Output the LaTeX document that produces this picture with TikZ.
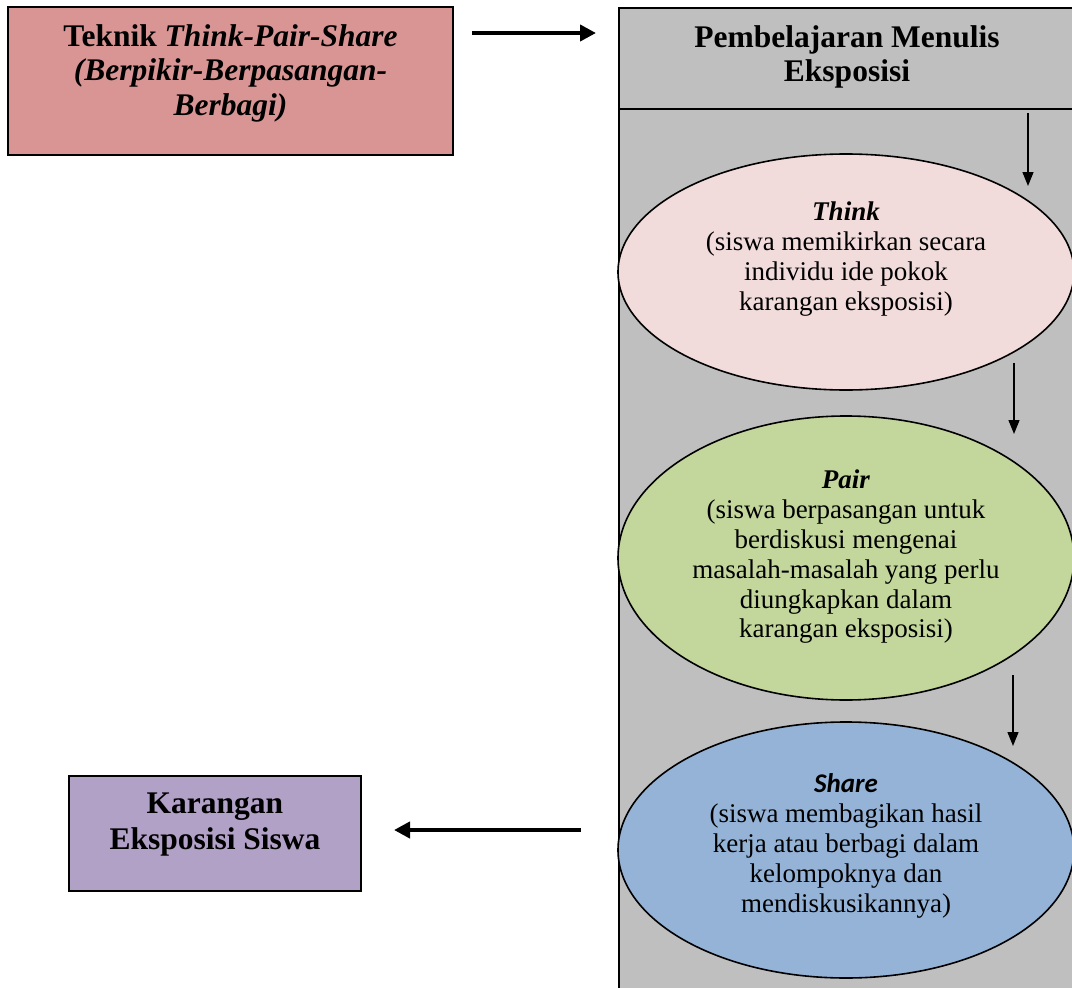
\documentclass[tikz,border=0pt]{standalone}
\usepackage{fontspec}
\setmainfont{Liberation Serif}
\newfontfamily\carlito{Carlito}
\usetikzlibrary{arrows.meta,shapes.geometric}
\definecolor{pinkbox}{HTML}{D99594}
\definecolor{panelgray}{HTML}{BFBFBF}
\definecolor{thinkfill}{HTML}{F2DCDB}
\definecolor{pairfill}{HTML}{C3D69B}
\definecolor{sharefill}{HTML}{95B3D7}
\definecolor{purplebox}{HTML}{B2A1C7}
\tikzset{
  box/.style={draw, line width=1.6pt, inner sep=0pt},
  oval/.style={draw, line width=1.6pt, ellipse, inner sep=0pt},
  txt/.style={align=center, inner sep=0pt, font=\fontsize{27}{29.8}\selectfont},
  hdr/.style={align=center, inner sep=0pt, font=\fontsize{31.5}{34.5}\selectfont\bfseries},
  bigarrow/.style={line width=4pt, -{Triangle[length=16pt,width=16pt]}},
  smallarrow/.style={line width=1.3pt, -{Triangle[length=14pt,width=11pt]}}
}
\begin{document}
\begin{tikzpicture}[x=1pt,y=-1pt]
\useasboundingbox (0,0) rectangle (1072,988);
\clip (0,0) rectangle (1072,988);
% left top box
\node[box, fill=pinkbox, minimum width=445pt, minimum height=148pt] (teknik) at (230.5,81) {};
\node[hdr] (teknikt) at (230.5,73) {Teknik \textit{Think-Pair-Share}\\\textit{(Berpikir-Berpasangan-}\\\textit{Berbagi)}};
% panel
\node[box, fill=panelgray, minimum width=470pt, minimum height=1000pt, anchor=north west] (panel) at (618,7) {};
\coordinate (divl) at (618,109);
\coordinate (divr) at (1090,109);
\draw[line width=1.6pt] (divl) -- (divr);
\node[hdr] (panelt) at (847,57) {Pembelajaran Menulis\\Eksposisi};
% ellipses
\node[oval, fill=thinkfill, minimum width=456pt, minimum height=236pt] (think) at (846,272) {};
\node[txt] (thinkt) at (846,259) {\textbf{\textit{Think}}\\(siswa memikirkan secara\\individu ide pokok\\karangan eksposisi)};
\node[oval, fill=pairfill, minimum width=456pt, minimum height=284pt] (pair) at (846,558) {};
\node[txt] (pairt) at (846,557) {\textbf{\textit{Pair}}\\(siswa berpasangan untuk\\berdiskusi mengenai\\masalah-masalah yang perlu\\diungkapkan dalam\\karangan eksposisi)};
\node[oval, fill=sharefill, minimum width=456pt, minimum height=256pt] (share) at (846,850) {};
\node[txt] (sharet) at (846,846) {{\carlito\bfseries\itshape Share}\\(siswa membagikan hasil\\kerja atau berbagi dalam\\kelompoknya dan\\mendiskusikannya)};
% bottom left box
\node[box, fill=purplebox, minimum width=292pt, minimum height=115pt] (karangan) at (215,833.5) {};
\node[hdr, font=\fontsize{31.5}{36}\selectfont\bfseries] (karangant) at (215,825) {Karangan\\Eksposisi Siswa};
% arrows
\coordinate (a1s) at (472,33);
\coordinate (a1e) at (596,33);
\draw[bigarrow] (a1s) -- (a1e);
\coordinate (a2s) at (1028,113);
\coordinate (a2e) at (1028,186);
\draw[smallarrow] (a2s) -- (a2e);
\coordinate (a3s) at (1014,363);
\coordinate (a3e) at (1014,434);
\draw[smallarrow] (a3s) -- (a3e);
\coordinate (a4s) at (1013,675);
\coordinate (a4e) at (1013,746);
\draw[smallarrow] (a4s) -- (a4e);
\coordinate (a5s) at (581,830);
\coordinate (a5e) at (394,830);
\draw[bigarrow] (a5s) -- (a5e);
\end{tikzpicture}
\end{document}
